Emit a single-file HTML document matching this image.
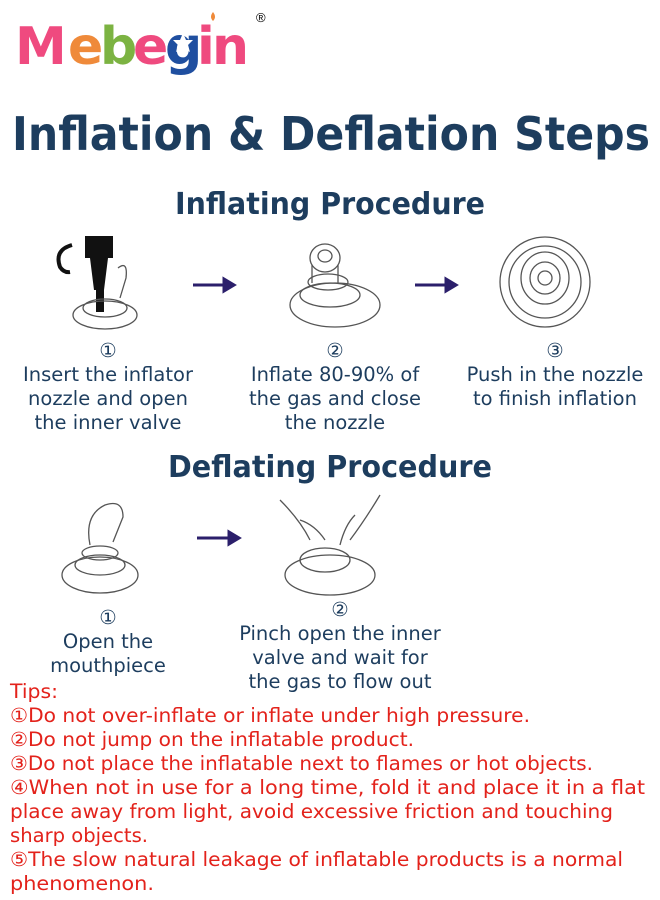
<!DOCTYPE html>
<html><head><meta charset="utf-8"><style>
html,body{margin:0;padding:0;background:#fff}
svg{display:block}
.n{font-family:"DejaVu Sans","Liberation Sans",sans-serif;fill:#1d3d5e}
.r{font-family:"DejaVu Sans","Liberation Sans",sans-serif;fill:#e3221b;font-size:19.5px}
.sk{fill:none;stroke:#555;stroke-width:1.3}
</style></head><body>
<svg width="660" height="900" viewBox="0 0 660 900" xmlns="http://www.w3.org/2000/svg">
<g font-family="DejaVu Sans,Liberation Sans,sans-serif" font-weight="bold" font-size="52">
<text x="15" y="64" fill="#ef4a7f">M</text>
<text x="68" y="64" fill="#ef8a3a">e</text>
<text x="100" y="64" fill="#7cb342">b</text>
<text x="133" y="64" fill="#ef4a7f">e</text>
<text x="165" y="64" fill="#1f4fa0">g</text>
<text x="197" y="64" fill="#ef4a7f">i</text>
<text x="212" y="64" fill="#ef4a7f">n</text>
</g>
<path d="M213 12 q4 5 0 9 q-4 -4 0 -9z" fill="#ef8a3a"/>
<polygon points="183,33 186,40 193,40 188,45 190,52 183,48 176,52 178,45 173,40 180,40" fill="#fff"/>
<text x="256" y="22" font-size="13" font-family="Liberation Sans,sans-serif">®</text>

<text class="n" x="12" y="150" font-size="46" font-weight="bold" textLength="638" lengthAdjust="spacingAndGlyphs">Inflation &amp; Deflation Steps</text>
<text class="n" x="175" y="214" font-size="30" font-weight="bold" textLength="310" lengthAdjust="spacingAndGlyphs">Inflating Procedure</text>

<path d="M72 245 q-18 5 -12 22 q4 6 10 5" fill="none" stroke="#111" stroke-width="4"/>
<rect x="85" y="236" width="28" height="22" fill="#111"/>
<path d="M90 258 h18 l-4 32 h-10z" fill="#111"/>
<rect x="96" y="290" width="8" height="22" fill="#111"/>
<ellipse class="sk" cx="105" cy="315" rx="32" ry="14"/><ellipse class="sk" cx="105" cy="308" rx="22" ry="9"/><path class="sk" d="M118 268 q10 -8 8 10 l-6 20"/>
<g fill="#2b1f6b" stroke="#2b1f6b" stroke-width="3"><line x1="193" y1="285" x2="226" y2="285"/><path d="M224 279 l10 6 l-10 6z"/>
<line x1="415" y1="285" x2="448" y2="285"/><path d="M446 279 l10 6 l-10 6z"/>
<line x1="197" y1="538" x2="231" y2="538"/><path d="M229 532 l10 6 l-10 6z"/></g>
<ellipse class="sk" cx="335" cy="305" rx="45" ry="22"/><ellipse class="sk" cx="330" cy="295" rx="30" ry="12"/><ellipse class="sk" cx="328" cy="282" rx="20" ry="8"/><ellipse class="sk" cx="325" cy="258" rx="15" ry="14"/><ellipse class="sk" cx="325" cy="256" rx="7" ry="6"/><path class="sk" d="M312 265 v18 M338 265 v18"/>
<circle class="sk" cx="545" cy="282" r="45"/><circle class="sk" cx="545" cy="282" r="36"/><ellipse class="sk" cx="545" cy="278" rx="24" ry="26"/><ellipse class="sk" cx="545" cy="278" rx="15" ry="16"/><circle class="sk" cx="545" cy="278" r="7"/>

<g class="n" font-size="19.5" text-anchor="middle">
<text x="108" y="357">①</text><text x="108" y="381">Insert the inflator</text><text x="108" y="405">nozzle and open</text><text x="108" y="429">the inner valve</text>
<text x="335" y="357">②</text><text x="335" y="381">Inflate 80-90% of</text><text x="335" y="405">the gas and close</text><text x="335" y="429">the nozzle</text>
<text x="555" y="357">③</text><text x="555" y="381">Push in the nozzle</text><text x="555" y="405">to finish inflation</text>
</g>
<text class="n" x="168" y="477" font-size="30" font-weight="bold" textLength="324" lengthAdjust="spacingAndGlyphs">Deflating Procedure</text>

<ellipse class="sk" cx="100" cy="575" rx="38" ry="18"/><ellipse class="sk" cx="100" cy="565" rx="25" ry="10"/><ellipse class="sk" cx="100" cy="553" rx="18" ry="7"/><path class="sk" d="M90 545 q-6 -30 15 -40 q18 -6 18 12 l-10 25"/>
<ellipse class="sk" cx="330" cy="575" rx="45" ry="20"/><ellipse class="sk" cx="325" cy="560" rx="25" ry="12"/><path class="sk" d="M280 500 q20 20 30 40 M380 495 q-15 25 -30 45 M300 520 q15 5 25 20 M355 515 q-10 10 -15 30"/>

<g class="n" font-size="19.5" text-anchor="middle">
<text x="108" y="624">①</text><text x="108" y="648">Open the</text><text x="108" y="672">mouthpiece</text>
<text x="340" y="616">②</text><text x="340" y="640">Pinch open the inner</text><text x="340" y="664">valve and wait for</text><text x="340" y="688">the gas to flow out</text>
</g>
<g class="r">
<text x="10" y="698" textLength="48" lengthAdjust="spacingAndGlyphs">Tips:</text>
<text x="10" y="722" textLength="520" lengthAdjust="spacingAndGlyphs">①Do not over-inflate or inflate under high pressure.</text>
<text x="10" y="746" textLength="404" lengthAdjust="spacingAndGlyphs">②Do not jump on the inflatable product.</text>
<text x="10" y="770" textLength="583" lengthAdjust="spacingAndGlyphs">③Do not place the inflatable next to flames or hot objects.</text>
<text x="10" y="794" textLength="635" lengthAdjust="spacingAndGlyphs">④When not in use for a long time, fold it and place it in a flat</text>
<text x="10" y="818" textLength="603" lengthAdjust="spacingAndGlyphs">place away from light, avoid excessive friction and touching</text>
<text x="10" y="842" textLength="138" lengthAdjust="spacingAndGlyphs">sharp objects.</text>
<text x="10" y="866" textLength="613" lengthAdjust="spacingAndGlyphs">⑤The slow natural leakage of inflatable products is a normal</text>
<text x="10" y="890" textLength="144" lengthAdjust="spacingAndGlyphs">phenomenon.</text>
</g>
</svg>
</body></html>
